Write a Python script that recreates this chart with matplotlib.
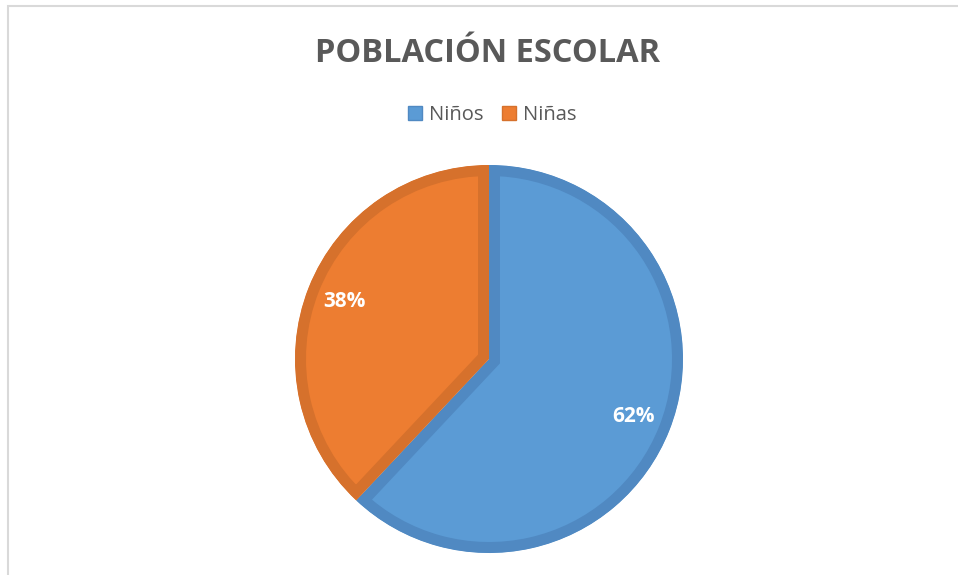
import matplotlib
matplotlib.use("Agg")
import matplotlib.pyplot as plt
from matplotlib.patches import Patch, Rectangle

plt.rcParams['font.family'] = ['Open Sans', 'DejaVu Sans']

title = "POBLACIÓN ESCOLAR"
labels = ["Niños", "Niñas"]
values = [62, 38]
fill_colors = ["#5B9BD5", "#ED7D31"]
edge_colors = ["#5089C2", "#D6712C"]
text_grey = "#595959"

W, H = 958, 575
fig = plt.figure(figsize=(W / 100, H / 100), dpi=100)
ax = fig.add_axes([0, 0, 1, 1])

# pie, blue slice starts at 12 o'clock and runs clockwise
wedges, texts, autotexts = ax.pie(values, colors=fill_colors, startangle=90,
                                  counterclock=False, center=(489, H - 359),
                                  radius=194, autopct='%1.0f%%', pctdistance=0.8,
                                  wedgeprops=dict(linewidth=22 * 0.72))
# border drawn inside the slice only (clip the stroke to the wedge)
for w, ec in zip(wedges, edge_colors):
    w.set_edgecolor(ec)
    w.set_clip_on(True)
    w.set_clip_path(w)
for t in autotexts:
    t.set_color("white")
    t.set_fontweight("bold")
    t.set_fontsize(15)

ax.set_xlim(0, W)
ax.set_ylim(0, H)
ax.set_aspect('equal')
ax.axis('off')

ax.text(488, H - 62, title, ha='center', va='baseline', fontsize=23.5,
        fontweight='bold', color=text_grey)

handles = [Patch(facecolor=f, edgecolor=e, linewidth=1) for f, e in zip(fill_colors, edge_colors)]
leg = fig.legend(handles, labels, loc='center', ncol=2, frameon=False,
                 bbox_to_anchor=(492.5 / W, 1 - 115 / H), fontsize=14.5,
                 handlelength=0.7, handleheight=0.7, handletextpad=0.36,
                 columnspacing=0.9)
for t in leg.get_texts():
    t.set_color(text_grey)

# chart area frame (only left and top edges are inside the picture)
ax.add_patch(Rectangle((8, -20), W + 40, H - 6 + 20, fill=False,
                       edgecolor="#d9d9d9", linewidth=1.5, clip_on=False))

fig.savefig("out.png", dpi=100)
